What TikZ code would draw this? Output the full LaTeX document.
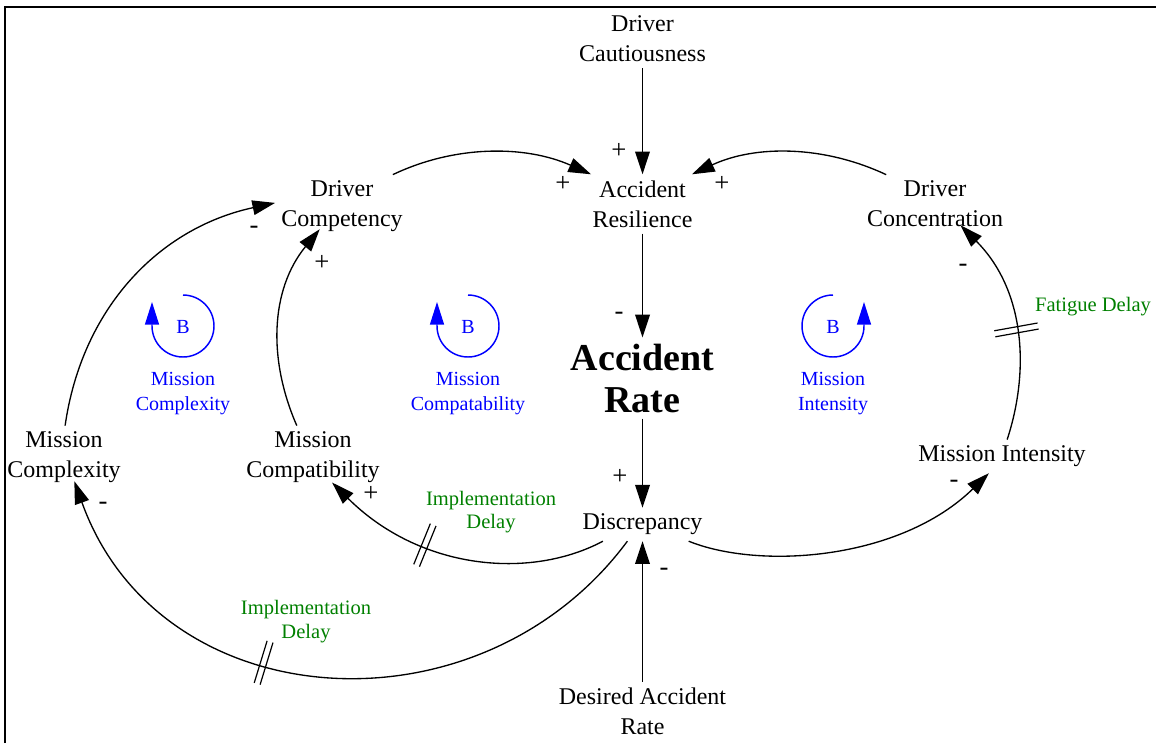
\documentclass[tikz,border=0pt]{standalone}
\usepackage{fontspec}
\setmainfont{Liberation Serif}
\usetikzlibrary{arrows.meta,decorations.markings}
\definecolor{dgreen}{RGB}{0,128,0}
\definecolor{lblue}{RGB}{0,0,255}
\begin{document}
\begin{tikzpicture}[x=0.75pt,y=-0.75pt,
  var/.style={font=\fontsize{18}{22.5}\selectfont, align=center, inner sep=4.5pt},
  bigvar/.style={font=\fontsize{28.5}{31.5}\selectfont\bfseries, align=center, inner sep=4.5pt},
  arr/.style={line width=1pt, -{Triangle[length=17pt,width=11pt]}},
  sgn/.style={font=\fontsize{20}{22}\selectfont, inner sep=0pt},
  lp/.style={draw=lblue, line width=1.1pt, -{Triangle[length=17pt,width=10.5pt]}},
  lptxt/.style={text=lblue, font=\fontsize{15}{18.2}\selectfont, align=center, inner sep=0pt},
  dly/.style={text=dgreen, font=\fontsize{15.4}{17.5}\selectfont, align=center, inner sep=0pt},
  delaymark/.style={postaction={decorate}, decoration={markings, mark=at position #1 with {\draw[line width=0.9pt,-] (-2.3pt,-16.5pt) -- (-2.3pt,16.5pt) (2.3pt,-16.5pt) -- (2.3pt,16.5pt);}}}
]
\useasboundingbox (0,0) rectangle (1156,743);
\draw[line width=1.5pt] (5,743) -- (5,6.5) -- (1156,6.5);

% variables
\node[var] (dcaut) at (642.5,39) {Driver\\Cautiousness};
\node[var] (ares) at (642.5,204) {Accident\\Resilience};
\node[var] (dcomp) at (342,206.4) {Driver\\Competency};
\node[var] (dconc) at (935,204) {Driver\\Concentration};
\node[bigvar] (arate) at (642.5,378) {Accident\\Rate};
\node[var] (disc) at (642.5,524.4) {Discrepancy};
\node[var] (dar) at (642.5,711.3) {Desired Accident\\Rate};
\node[var] (mcx) at (64,457.4) {Mission\\Complexity};
\node[var] (mcomp) at (313,457.4) {Mission\\Compatibility};
\node[var] (mint) at (1002,456.4) {Mission Intensity};

% straight links
\draw[arr] (dcaut) -- (ares);
\draw[arr] (ares) -- (arate);
\draw[arr] (arate) -- (disc);
\draw[arr] (dar) -- (disc);

% curved links
\draw[arr] (dcomp.32) .. controls (455,145) and (525,145) .. (ares.150);
\draw[arr] (dconc.149) .. controls (823,145) and (755,145) .. (ares.31);
\draw[arr] (disc.-20) .. controls (760,570) and (900,560) .. (mint.-128);
\draw[arr, delaymark=0.48] (mint.73) .. controls (1030,370) and (1025,290) .. ([yshift=6pt]dconc.-49);
\draw[arr] (mcomp.117) .. controls (268,360) and (270,290) .. ([yshift=6.75pt]dcomp.-125);
\draw[arr] (mcx.88) .. controls (82,308) and (159,228) .. (dcomp.177);
\draw[arr, delaymark=0.62] (disc.-157) .. controls (530,580) and (420,570) .. ([yshift=5pt]mcomp.-59);
\draw[arr, delaymark=0.6] (disc.-132) .. controls (480,740) and (160,720) .. ([yshift=6pt]mcx.-72);

% polarity signs
\node[sgn] (s1) at (619,151) {+};
\node[sgn] (s2) at (563,184) {+};
\node[sgn] (s3) at (722,184) {+};
\node[sgn] (s4) at (619,316) {-};
\node[sgn] (s5) at (620,477) {+};
\node[sgn] (s6) at (664,572) {-};
\node[sgn] (s7) at (954,484) {-};
\node[sgn] (s8) at (963,268) {-};
\node[sgn] (s9) at (254,230) {-};
\node[sgn] (s10) at (322,263) {+};
\node[sgn] (s11) at (371,494) {+};
\node[sgn] (s12) at (103,506) {-};

% loop markers
\draw[lp] (183,295) arc[start angle=90, end angle=-180, radius=23.25pt] -- ++(0,-24);
\node[lptxt] (b1) at (183,326.5) {B};
\node[lptxt] (l1) at (183,393.5) {Mission\\Complexity};
\draw[lp] (468,295) arc[start angle=90, end angle=-180, radius=23.25pt] -- ++(0,-24);
\node[lptxt] (b2) at (468,326.5) {B};
\node[lptxt] (l2) at (468,393.5) {Mission\\Compatability};
\draw[lp] (833,295) arc[start angle=90, end angle=360, radius=23.25pt] -- ++(0,-24);
\node[lptxt] (b3) at (833,326.5) {B};
\node[lptxt] (l3) at (833,393.5) {Mission\\Intensity};

% delay labels
\node[dly] (d1) at (1093,307) {Fatigue Delay};
\node[dly] (d2) at (491,512) {Implementation\\Delay};
\node[dly] (d3) at (306,621.7) {Implementation\\Delay};
\end{tikzpicture}
\end{document}
